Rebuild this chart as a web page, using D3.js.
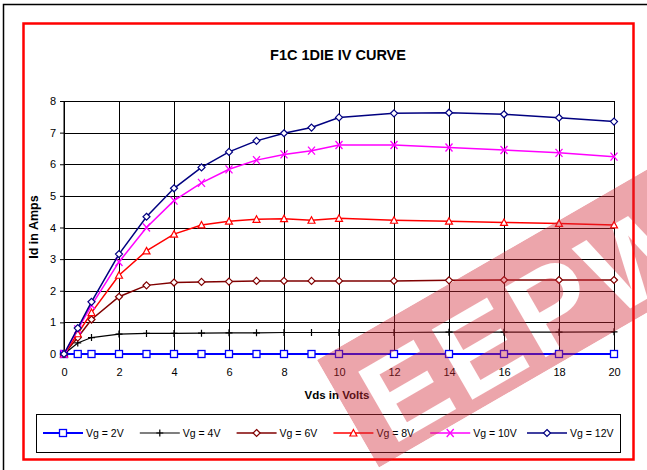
<!DOCTYPE html>
<html><head><meta charset="utf-8">
<script src="https://cdn.jsdelivr.net/npm/d3@7"></script>
<style>html,body{margin:0;padding:0;background:#fff;}svg{display:block;font-family:"Liberation Sans",Arial,sans-serif;}</style>
</head><body>
<svg id="c" width="647" height="470"></svg>
<script>
const vds = [0,0.5,1,2,3,4,5,6,7,8,9,10,12,14,16,18,20];
const vg2  = [0,0,0,0,0,0,0,0,0,0,0,0,0,0,0,0,0];
const vg4  = [0,0.35,0.52,0.63,0.65,0.65,0.66,0.67,0.67,0.68,0.68,0.68,0.68,0.69,0.69,0.69,0.70];
const vg6  = [0,0.52,1.09,1.81,2.17,2.26,2.28,2.29,2.31,2.31,2.31,2.31,2.31,2.33,2.34,2.34,2.34];
const vg8  = [0,0.64,1.31,2.49,3.26,3.79,4.08,4.20,4.26,4.28,4.23,4.29,4.23,4.20,4.16,4.13,4.08];
const vg10 = [0,0.78,1.54,2.91,4.00,4.85,5.41,5.84,6.13,6.31,6.43,6.61,6.61,6.53,6.45,6.36,6.24];
const vg12 = [0,0.82,1.65,3.16,4.34,5.24,5.90,6.39,6.74,6.98,7.16,7.48,7.61,7.63,7.58,7.47,7.35];
const seriesNames = ["Vg = 2V","Vg = 4V","Vg = 6V","Vg = 8V","Vg = 10V","Vg = 12V"];
const xTicks = [0,2,4,6,8,10,12,14,16,18,20];
const yTicks = [0,1,2,3,4,5,6,7,8];
const title = "F1C 1DIE IV CURVE";
const xTitle = "Vds in Volts";
const yTitle = "Id in Amps";

const series = [
  {name:seriesNames[0], vals:vg2,  color:"#0000FF", marker:"square", w:2},
  {name:seriesNames[1], vals:vg4,  color:"#000000", marker:"plus", w:1.2},
  {name:seriesNames[2], vals:vg6,  color:"#800000", marker:"diamond", w:1.5},
  {name:seriesNames[3], vals:vg8,  color:"#FF0000", marker:"triangle", w:1.5},
  {name:seriesNames[4], vals:vg10, color:"#FF00FF", marker:"x", w:1.5},
  {name:seriesNames[5], vals:vg12, color:"#000080", marker:"diamond", w:1.5}
];

const svg = d3.select("#c");
const L=64, R=614, T=101, B=354;
const x = d3.scaleLinear().domain([0,20]).range([L,R]);
const y = d3.scaleLinear().domain([0,8]).range([B,T]);

// frames
svg.append("rect").attr("x",3.5).attr("y",4.5).attr("width",800).attr("height",800)
  .attr("fill","none").attr("stroke","#000").attr("stroke-width",1.5);

// title
svg.append("text").attr("x",338).attr("y",60).attr("text-anchor","middle")
  .attr("font-size",14.5).attr("font-weight","bold").text(title);

// grid
const g = svg.append("g");
g.selectAll("line.h").data(yTicks).enter().append("line")
  .attr("x1",L).attr("x2",R).attr("y1",d=>Math.round(y(d))+0.5).attr("y2",d=>Math.round(y(d))+0.5)
  .attr("stroke","#000").attr("stroke-width",1);
g.selectAll("line.v").data(xTicks).enter().append("line")
  .attr("y1",T).attr("y2",B+4).attr("x1",d=>Math.round(x(d))+0.5).attr("x2",d=>Math.round(x(d))+0.5)
  .attr("stroke","#000").attr("stroke-width",1);
// axes
const xa = d3.axisBottom(x).tickValues(xTicks).tickSize(0).tickPadding(14).tickFormat(d3.format("d"));
const ya = d3.axisLeft(y).tickValues(yTicks).tickSize(4).tickPadding(4).tickFormat(d3.format("d"));
const gx = svg.append("g").attr("transform",`translate(0,${B})`).call(xa);
gx.select(".domain").remove();
gx.selectAll("text").attr("font-size",11).attr("font-family","Liberation Sans, Arial").attr("fill","#000");
const gy = svg.append("g").attr("transform",`translate(${L},0)`).call(ya);
gy.select(".domain").attr("stroke","#000");
gy.selectAll("text").attr("font-size",11).attr("font-family","Liberation Sans, Arial").attr("fill","#000");
svg.append("line").attr("x1",L).attr("x2",L).attr("y1",T).attr("y2",B).attr("stroke","#000");

svg.append("text").attr("x",337).attr("y",399).attr("text-anchor","middle")
  .attr("font-size",11.5).attr("font-weight","bold").text(xTitle);
svg.append("text").attr("transform","translate(38,227) rotate(-90)").attr("text-anchor","middle")
  .attr("font-size",12.5).attr("font-weight","bold").text(yTitle);

function drawMarker(sel, m, color){
  if(m==="square"){
    sel.append("rect").attr("x",-3.5).attr("y",-3.5).attr("width",7).attr("height",7)
      .attr("fill","#fff").attr("stroke",color).attr("stroke-width",1.3);
  } else if(m==="diamond"){
    sel.append("path").attr("d","M0,-3.5L3.5,0L0,3.5L-3.5,0Z")
      .attr("fill","#fff").attr("stroke",color).attr("stroke-width",1.2);
  } else if(m==="triangle"){
    sel.append("path").attr("d","M0,-3.5L3.5,3L-3.5,3Z")
      .attr("fill","#fff").attr("stroke",color).attr("stroke-width",1.2);
  } else if(m==="plus"){
    sel.append("path").attr("d","M-3.5,0H3.5M0,-3.5V3.5")
      .attr("stroke",color).attr("stroke-width",1.2);
  } else if(m==="x"){
    sel.append("path").attr("d","M-3.5,-4L3.5,4M3.5,-4L-3.5,4")
      .attr("stroke",color).attr("stroke-width",1.3);
  }
}

const line = d3.line().x(d=>x(d[0])).y(d=>y(d[1]));
series.forEach(s=>{
  const pts = vds.map((v,i)=>[v,s.vals[i]]);
  const sg = svg.append("g");
  sg.append("path").attr("d",line(pts)).attr("fill","none").attr("stroke",s.color).attr("stroke-width",s.w);
  sg.selectAll("g.m").data(pts).enter().append("g")
    .attr("transform",d=>`translate(${x(d[0])},${y(d[1])})`)
    .each(function(){ drawMarker(d3.select(this), s.marker, s.color); });
});

// legend
svg.append("rect").attr("x",36.5).attr("y",414.5).attr("width",584).attr("height",38)
  .attr("fill","none").attr("stroke","#000").attr("stroke-width",1);
series.forEach((s,i)=>{
  const x0 = 43 + i*96.8, yy = 433;
  const lg = svg.append("g");
  lg.append("line").attr("x1",x0).attr("x2",x0+40).attr("y1",yy).attr("y2",yy)
    .attr("stroke",s.color).attr("stroke-width",s.w);
  const mg = lg.append("g").attr("transform",`translate(${x0+20},${yy})`);
  drawMarker(mg, s.marker, s.color);
  lg.append("text").attr("x",x0+43).attr("y",yy+4).attr("font-size",10.5).text(s.name);
});

// red frame
svg.append("rect").attr("x",23.5).attr("y",23.5).attr("width",610).attr("height",436)
  .attr("fill","none").attr("stroke","#FF0000").attr("stroke-width",2.5);

// watermark
const wm = svg.append("g").attr("transform","translate(317,360) rotate(-30)");
const defs = svg.append("defs");
const mask = defs.append("mask").attr("id","wmk");
mask.append("rect").attr("x",0).attr("y",0).attr("width",520).attr("height",124).attr("fill","#fff");
mask.append("text").attr("x",22).attr("y",112).attr("font-size",118).attr("font-weight","bold")
  .attr("font-family","Liberation Sans, Arial").attr("letter-spacing",6).attr("fill","#000").text("EEPW");
wm.append("rect").attr("x",0).attr("y",0).attr("width",520).attr("height",124)
  .attr("fill","rgb(210,40,55)").attr("fill-opacity",0.42).attr("mask","url(#wmk)");
</script>
</body></html>
